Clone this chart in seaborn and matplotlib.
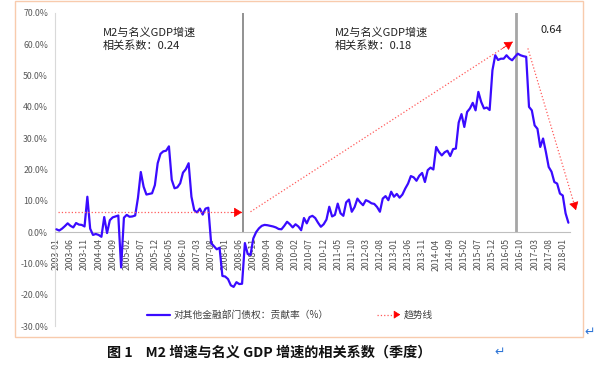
import pandas as pd
import numpy as np
import matplotlib
matplotlib.use("Agg")
import matplotlib.pyplot as plt
from matplotlib.patches import FancyArrowPatch, Rectangle
from matplotlib.legend_handler import HandlerBase
from matplotlib.lines import Line2D
import seaborn as sns

# monthly data, 2003-01 .. 2018-03
months = pd.period_range("2003-01", "2018-03", freq="M").strftime("%Y-%m").tolist()
contrib = [
    0.9, 0.5, 1.1, 1.9, 2.8, 2.0, 1.5, 2.9, 2.4, 2.3, 1.8, 11.3,
    1.1, -0.9, -0.6, -0.9, -1.5, 4.8, -0.3, 3.8, 4.7, 5.0, 5.3, -11.3,
    4.6, 5.5, 4.9, 5.0, 5.3, 11.0, 19.2, 14.5, 12.0, 12.2, 12.4, 15.0,
    22.0, 25.0, 25.8, 26.0, 27.4, 16.7, 14.0, 14.3, 15.6, 19.0, 20.1, 22.0,
    11.3, 7.0, 6.3, 7.5, 5.6, 7.5, 7.8, -3.5, -4.5, -5.5, -5.0, -14.0,
    -14.2, -15.0, -17.0, -17.5, -16.0, -16.6, -16.5, -3.5, -7.0, -7.3, -2.0, 0.0,
    1.2, 2.0, 2.3, 2.2, 2.0, 1.8, 1.5, 1.0, 0.9, 2.0, 3.3, 2.5,
    1.5, 2.5, 1.8, 0.6, 4.5, 2.8, 4.8, 5.2, 4.5, 3.0, 1.7, 2.5,
    4.0, 8.1, 5.0, 5.5, 9.1, 6.0, 5.2, 9.5, 10.4, 6.5, 8.0, 10.7,
    9.5, 8.6, 10.2, 9.8, 9.2, 9.0, 8.0, 6.5, 10.7, 11.5, 10.2, 12.9,
    11.3, 12.2, 11.0, 12.0, 13.9, 15.5, 17.9, 17.5, 16.4, 18.0, 18.9, 16.0,
    19.8, 20.6, 20.0, 27.2, 25.6, 24.5, 25.5, 26.0, 24.3, 26.5, 26.7, 35.0,
    37.7, 33.6, 38.4, 39.5, 41.3, 38.9, 44.8, 41.6, 39.5, 39.8, 39.0, 51.7,
    56.5, 55.0, 55.4, 55.4, 56.5, 55.5, 54.9, 56.0, 57.0, 56.5, 56.2, 56.0,
    40.0, 38.9, 34.1, 33.0, 27.2, 29.9, 25.6, 20.8, 19.3, 16.0, 15.5, 12.3,
    11.7, 6.0, 3.0,
]

# regime breaks (month index) and correlation texts
break_pos = [66.5, 163.3]
corr_labels = ["M2与名义GDP增速\n相关系数：0.24", "M2与名义GDP增速\n相关系数：0.18", "0.64"]
corr_pos = [(16.5, 65.5), (99, 65.5), (172, 66.3)]

# trend arrows: (x0, y0, x1, y1)
trend_x0 = [0.7, 69.0, 167.6]
trend_y0 = [6.3, 6.5, 58.7]
trend_x1 = [66.0, 162.2, 184.7]
trend_y1 = [6.3, 60.8, 7.0]

yticks = list(range(-30, 71, 10))

sns.set_style("white")
plt.rcParams["font.family"] = ["Noto Sans CJK SC", "DejaVu Sans"]

df = pd.DataFrame({"idx": np.arange(len(contrib)), "val": contrib})

fig = plt.figure(figsize=(6.03, 3.74), dpi=100)
ax = fig.add_axes([55 / 603, 1 - 326 / 374, (569.8 - 55) / 603, (326 - 13) / 374])

line_color = "#3A0BFF"
sns.lineplot(data=df, x="idx", y="val", ax=ax, color=line_color, lw=1.6,
             legend=False, zorder=3)

# spines first: moving the spine resets the tick objects
for s in ["top", "right"]:
    ax.spines[s].set_visible(False)
ax.spines["left"].set_color("#d9d9d9")
ax.spines["bottom"].set_position(("data", 0))
ax.spines["bottom"].set_color("#bfbfbf")

ax.vlines(break_pos, 0, 70.5, colors=["#7f7f7f", "#a6a6a6"], lw=[1.2, 2.0], zorder=2)

for x0, y0, x1, y1 in zip(trend_x0, trend_y0, trend_x1, trend_y1):
    ax.plot([x0, x1], [y0, y1], ls=":", color="#ff5a5a", lw=0.9, clip_on=False, zorder=4)
    dx, dy = x1 - x0, y1 - y0
    f = 0.04 if abs(dy) > 1 else 0.06
    ax.annotate("", xy=(x1, y1), xytext=(x1 - dx * f, y1 - dy * f),
                arrowprops=dict(arrowstyle="-|>,head_length=0.5,head_width=0.3",
                                color="red", lw=0.5, shrinkA=0, shrinkB=0),
                annotation_clip=False, zorder=5)

for txt, (x, y) in zip(corr_labels, corr_pos):
    ax.text(x, y, txt, fontsize=8, color="#222222", va="top", ha="left", linespacing=1.3)

ax.set_xlim(-0.5, 182.5)
ax.set_ylim(-30, 70)
ax.set_yticks(yticks)
ax.set_yticklabels([f"{v:.1f}%" for v in yticks])
ax.set_xticks(range(0, len(months), 5))
ax.set_xticklabels(months[::5])
ax.set_xlabel("")
ax.set_ylabel("")
ax.tick_params(axis="y", length=3, color="#d9d9d9", pad=2, labelsize=6.3, labelcolor="#595959")
ax.tick_params(axis="x", length=3, color="#bfbfbf", pad=1.5, labelsize=6.3,
               labelcolor="#505050", labelrotation=90)


class HandlerTrend(HandlerBase):
    def create_artists(self, legend, orig_handle, xdescent, ydescent, width, height, fontsize, trans):
        y = height / 2 - ydescent
        ln = Line2D([-xdescent, width - xdescent - 3], [y, y], ls=":", color="#ff5a5a", lw=0.9, transform=trans)
        ar = FancyArrowPatch((width - xdescent - 4, y), (width - xdescent, y),
                             arrowstyle="-|>,head_length=0.4,head_width=0.25",
                             color="red", lw=0.5, mutation_scale=10, transform=trans)
        return [ln, ar]


blue_handle = Line2D([], [], color=line_color, lw=1.6)
trend_handle = object()
ax.legend([blue_handle, trend_handle], ["对其他金融部门债权：贡献率（%）", "趋势线"],
          handler_map={trend_handle.__class__: HandlerTrend()},
          loc="center", bbox_to_anchor=(0.456, 0.035), ncol=2, frameon=False,
          fontsize=7, handlelength=2.4, handletextpad=0.3, columnspacing=5,
          labelcolor="#404040")

fig.patches.append(Rectangle((15 / 603, 1 - 337 / 374), 568 / 603, 336 / 374,
                             transform=fig.transFigure, fill=False, ec="#F8CBAD", lw=1))

fig.text(107 / 603, 1 - 353 / 374, "图 1    M2 增速与名义 GDP 增速的相关系数（季度）",
         fontsize=10.2, fontweight="bold", va="center", ha="left", color="#111111")
fig.text(494 / 603, 1 - 352 / 374, "↵", fontsize=9, color="#2E75D6", va="center",
         family=["DejaVu Sans"])
fig.text(584 / 603, 1 - 332 / 374, "↵", fontsize=9, color="#2E75D6", va="center",
         family=["DejaVu Sans"])

fig.savefig("out.png", dpi=100)
